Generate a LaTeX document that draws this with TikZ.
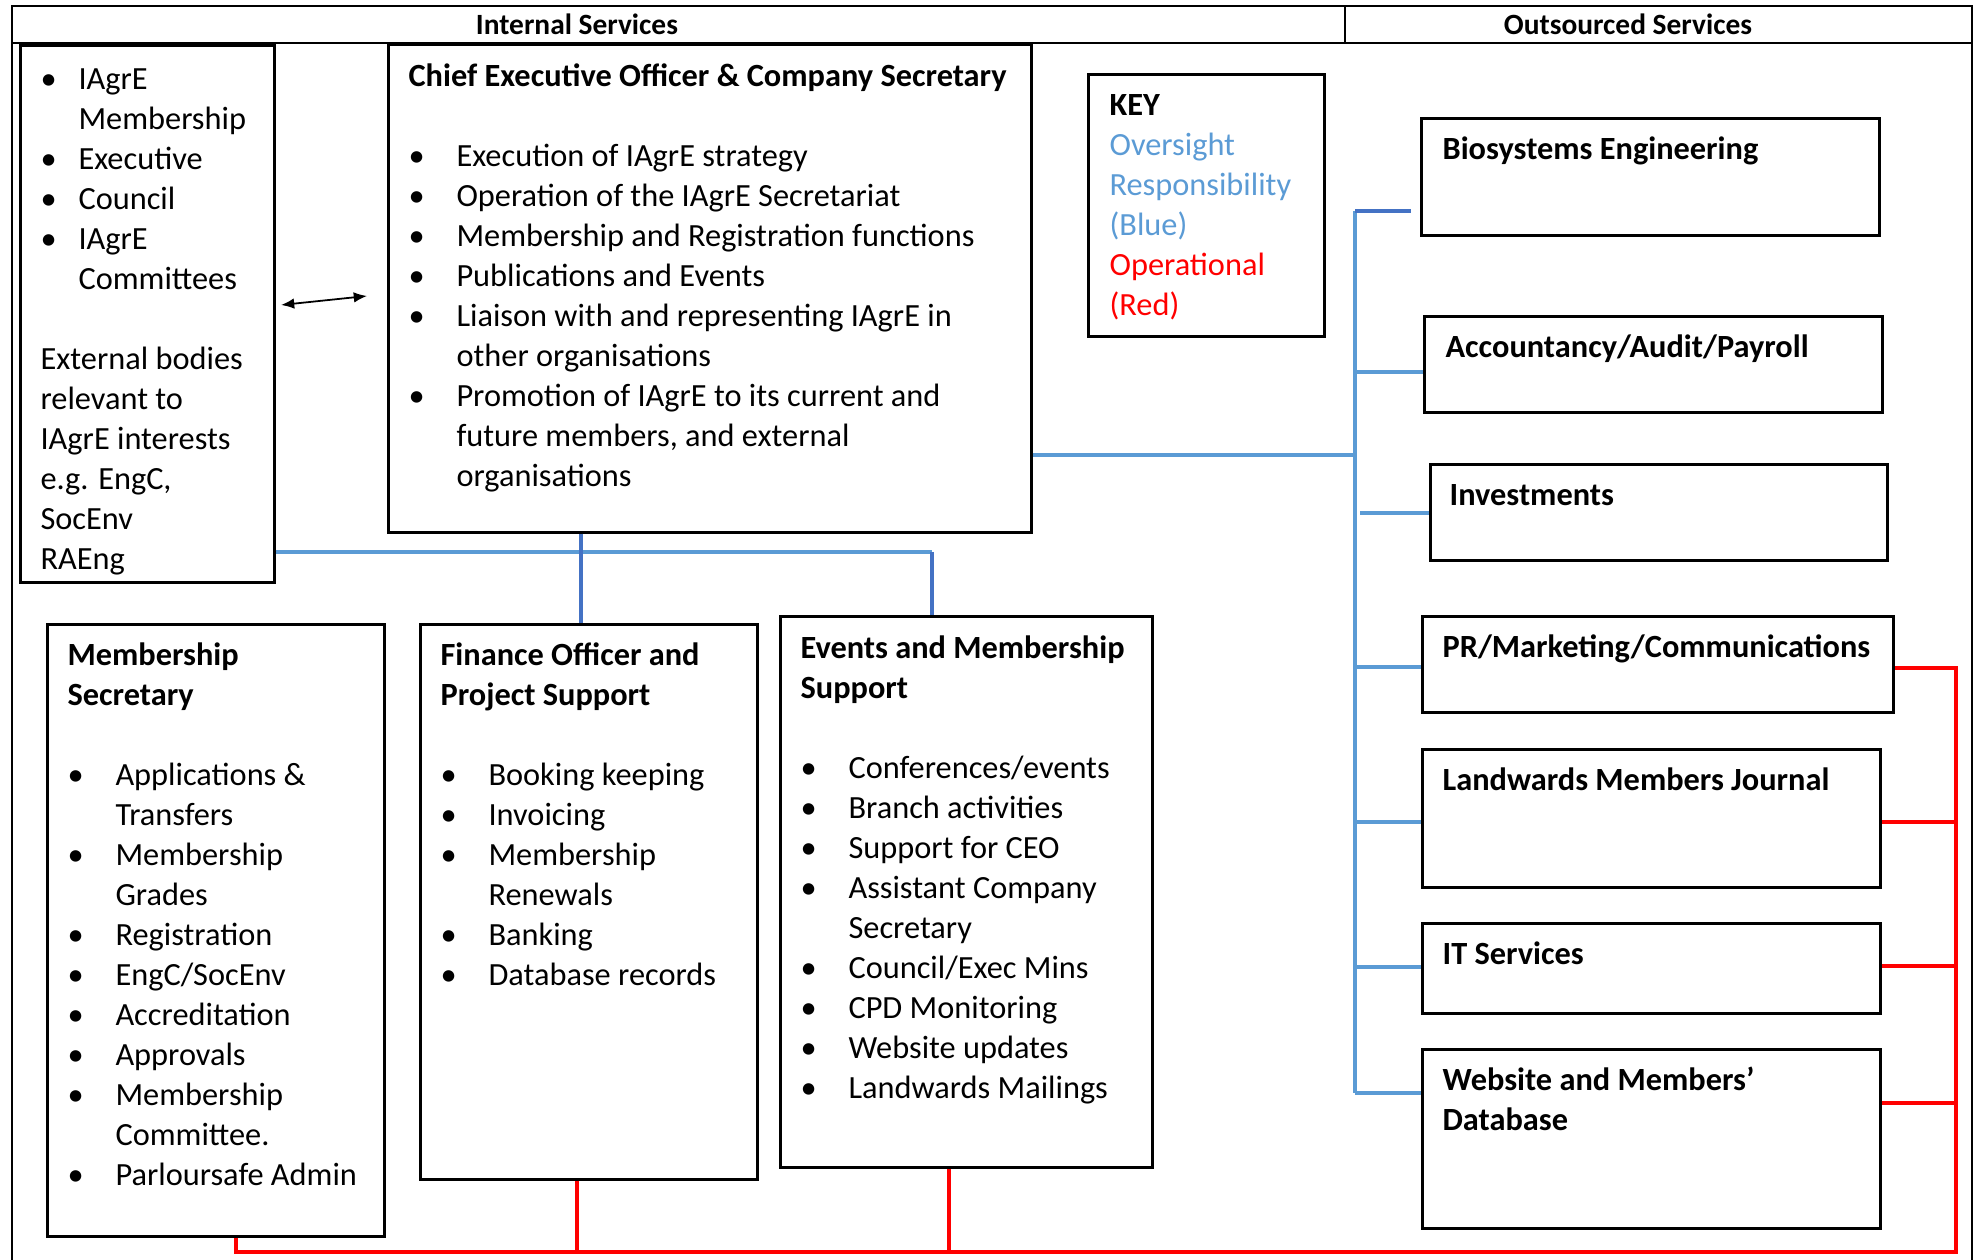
\documentclass[tikz,border=0pt]{standalone}
\usepackage{fontspec}
\setmainfont{Carlito}
\usetikzlibrary{arrows.meta}

\definecolor{ovblue}{HTML}{5B9BD5}
\definecolor{ovdark}{HTML}{4472C4}
\definecolor{opred}{HTML}{FF0000}

\newcommand{\pxu}{0.34pt}
\newcommand{\bul}[1][16.3pt]{\makebox[#1][l]{\textbullet}}
\newcommand{\bulind}[1][16.3pt]{\makebox[#1]{}}

\begin{document}
\begin{tikzpicture}[x=\pxu,y=-\pxu,
    box/.style={draw,line width=0.9pt,anchor=north west,inner sep=0pt},
    txt/.style={anchor=north west,inner sep=0pt,align=left,font=\fontsize{11}{13.6}\selectfont},
    head/.style={anchor=base,inner sep=0pt,font=\fontsize{10}{12}\selectfont\bfseries},
    oversight/.style={draw=ovblue,line width=1.2pt},
    oversight dark/.style={draw=ovdark,line width=1.2pt},
    operational/.style={draw=opred,line width=1.3pt}]
    \useasboundingbox (0,0) rectangle (1975,1260);
    % frame and header
    \draw[line width=0.9pt] (12,1260) -- (12,6) -- (1972,6) -- (1972,1260);
    \draw[line width=0.9pt] (12,43) -- (1972,43);
    \draw[line width=0.9pt] (1345,6) -- (1345,43);
    \node[head] (intl) at (577,35) {Internal Services};
    \node[head] (outs) at (1628,35) {Outsourced Services};

    % internal boxes
    \node[box,minimum width=254*\pxu,minimum height=537*\pxu] (lbox) at (19,44) {};
    \node[txt] (lboxtxt) at ([shift={(21,17)}]lbox.north west) {\strut\bul[12.9pt]IAgrE\\
        \bulind[12.9pt]Membership\\
        \bul[12.9pt]Executive\\
        \bul[12.9pt]Council\\
        \bul[12.9pt]IAgrE\\
        \bulind[12.9pt]Committees\\[13.6pt]
        External bodies\\
        relevant to\\
        IAgrE interests\\
        e.g. EngC,\\
        SocEnv\\
        RAEng};

    \node[box,minimum width=643*\pxu,minimum height=488*\pxu] (ceo) at (387,43) {};
    \node[txt] (ceotxt) at ([shift={(21,15)}]ceo.north west) {\strut\textbf{Chief Executive Officer \& Company Secretary}\\[13.6pt]
        \bul Execution of IAgrE strategy\\
        \bul Operation of the IAgrE Secretariat\\
        \bul Membership and Registration functions\\
        \bul Publications and Events\\
        \bul Liaison with and representing IAgrE in\\
        \bulind other organisations\\
        \bul Promotion of IAgrE to its current and\\
        \bulind future members, and external\\
        \bulind organisations};

    \node[box,minimum width=236*\pxu,minimum height=262*\pxu] (key) at (1087,73) {};
    \node[txt] (keytxt) at ([shift={(22,14)}]key.north west) {\strut\textbf{KEY}\\
        \textcolor{ovblue}{Oversight}\\
        \textcolor{ovblue}{Responsibility}\\
        \textcolor{ovblue}{(Blue)}\\
        \textcolor{opred}{Operational}\\
        \textcolor{opred}{(Red)}};

    \node[box,minimum width=337*\pxu,minimum height=612*\pxu] (ms) at (46,623) {};
    \node[txt] (mstxt) at ([shift={(21,14)}]ms.north west) {\strut\textbf{Membership}\\
        \textbf{Secretary}\\[13.6pt]
        \bul Applications \&\\
        \bulind Transfers\\
        \bul Membership\\
        \bulind Grades\\
        \bul Registration\\
        \bul EngC/SocEnv\\
        \bul Accreditation\\
        \bul Approvals\\
        \bul Membership\\
        \bulind Committee.\\
        \bul Parloursafe Admin};

    \node[box,minimum width=337*\pxu,minimum height=555*\pxu] (fin) at (419,623) {};
    \node[txt] (fintxt) at ([shift={(21,14)}]fin.north west) {\strut\textbf{Finance Officer and}\\
        \textbf{Project Support}\\[13.6pt]
        \bul Booking keeping\\
        \bul Invoicing\\
        \bul Membership\\
        \bulind Renewals\\
        \bul Banking\\
        \bul Database records};

    \node[box,minimum width=372*\pxu,minimum height=551*\pxu] (ev) at (779,615) {};
    \node[txt] (evtxt) at ([shift={(21,15)}]ev.north west) {\strut\textbf{Events and Membership}\\
        \textbf{Support}\\[13.6pt]
        \bul Conferences/events\\
        \bul Branch activities\\
        \bul Support for CEO\\
        \bul Assistant Company\\
        \bulind Secretary\\
        \bul Council/Exec Mins\\
        \bul CPD Monitoring\\
        \bul Website updates\\
        \bul Landwards Mailings};

    % outsourced boxes
    \node[box,minimum width=458*\pxu,minimum height=117*\pxu] (bio) at (1420,117) {};
    \node[txt] (biotxt) at ([shift={(22,14)}]bio.north west) {\strut\textbf{Biosystems Engineering}};
    \node[box,minimum width=458*\pxu,minimum height=96*\pxu] (acc) at (1423,315) {};
    \node[txt] (acctxt) at ([shift={(22,14)}]acc.north west) {\strut\textbf{Accountancy/Audit/Payroll}};
    \node[box,minimum width=457*\pxu,minimum height=96*\pxu] (inv) at (1429,463) {};
    \node[txt] (invtxt) at ([shift={(20,14)}]inv.north west) {\strut\textbf{Investments}};
    \node[box,minimum width=471*\pxu,minimum height=96*\pxu] (pr) at (1421,615) {};
    \node[txt] (prtxt) at ([shift={(21,14)}]pr.north west) {\strut\textbf{PR/Marketing/Communications}};
    \node[box,minimum width=458*\pxu,minimum height=138*\pxu] (lw) at (1421,748) {};
    \node[txt] (lwtxt) at ([shift={(21,14)}]lw.north west) {\strut\textbf{Landwards Members Journal}};
    \node[box,minimum width=458*\pxu,minimum height=90*\pxu] (it) at (1421,922) {};
    \node[txt] (ittxt) at ([shift={(21,14)}]it.north west) {\strut\textbf{IT Services}};
    \node[box,minimum width=458*\pxu,minimum height=179*\pxu] (web) at (1421,1048) {};
    \node[txt] (webtxt) at ([shift={(21,14)}]web.north west) {\strut\textbf{Website and Members’}\\
        \textbf{Database}};

    % oversight (blue)
    \coordinate (bf) at (581,552);
    \coordinate (bj) at (932,552);
    \draw[oversight] (lbox.east |- bj) -- (bj);
    \draw[oversight dark] (bj) -- (ev.north -| bj);
    \draw[oversight dark] (ceo.south -| bf) -- (fin.north -| bf);
    \coordinate (tc) at (1357,455);
    \coordinate (t1) at (1355,211);
    \coordinate (t2) at (1355,372);
    \coordinate (t3) at (1360,513);
    \coordinate (t4) at (1355,667);
    \coordinate (t5) at (1355,822);
    \coordinate (t6) at (1355,967);
    \coordinate (t7) at (1355,1093);
    \draw[oversight] (ceo.east |- tc) -- (tc);
    \draw[oversight] (t1) -- (t7);
    \draw[oversight dark] (t1) -- ([xshift=-3pt]bio.west |- t1);
    \draw[oversight] (t2) -- (acc.west |- t2);
    \draw[oversight] (t3) -- (inv.west |- t3);
    \draw[oversight] (t4) -- (pr.west |- t4);
    \draw[oversight] (t5) -- (lw.west |- t5);
    \draw[oversight] (t6) -- (it.west |- t6);
    \draw[oversight] (t7) -- (web.west |- t7);

    % operational (red)
    \coordinate (rm) at (236,1252);
    \coordinate (rf) at (577,1252);
    \coordinate (re) at (949,1252);
    \coordinate (rb) at (1956,1252);
    \coordinate (r4) at (1956,668);
    \coordinate (r5) at (1956,822);
    \coordinate (r6) at (1956,966);
    \coordinate (r7) at (1956,1103);
    \draw[operational] (ms.south -| rm) -- (rm) -- (rb) -- (r4) -- (pr.east |- r4);
    \draw[operational] (fin.south -| rf) -- (rf);
    \draw[operational] (ev.south -| re) -- (re);
    \draw[operational] (lw.east |- r5) -- (r5);
    \draw[operational] (it.east |- r6) -- (r6);
    \draw[operational] (web.east |- r7) -- (r7);

    % two-way link to external bodies
    \coordinate (a1) at (281,305);
    \coordinate (a2) at (367,296);
    \draw[line width=0.6pt,{Latex[length=4.5pt,width=3.6pt]}-{Latex[length=4.5pt,width=3.6pt]}] (a1) -- (a2);
\end{tikzpicture}
\end{document}
